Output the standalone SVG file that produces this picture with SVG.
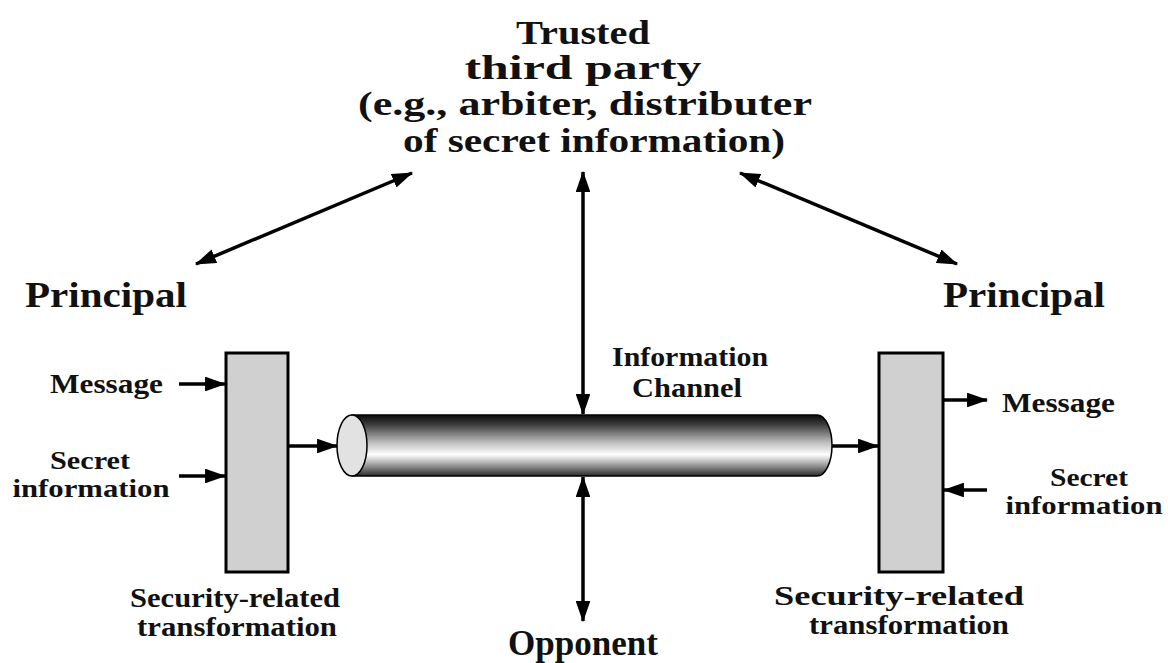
<svg xmlns="http://www.w3.org/2000/svg" width="1168" height="663" viewBox="0 0 1168 663">
<style>
text{font-family:"Liberation Serif","Times New Roman",serif;font-weight:bold;fill:#111}
.big{font-size:36px}
.ttl{font-size:33px}
.mid{font-size:27px}
.sm{font-size:25px}
.c{text-anchor:middle}
.ln{stroke:#000;stroke-width:3.5;fill:none}
.box{fill:#d0d0d0;stroke:#000;stroke-width:3}
</style>
<defs>
<marker id="ah" viewBox="0 0 20 14" refX="19" refY="7" markerWidth="6" markerHeight="4.2" markerUnits="strokeWidth" orient="auto-start-reverse">
<path d="M0,0 L20,7 L0,14 z" fill="#000"/>
</marker>
<linearGradient id="cyl" x1="0" y1="0" x2="0" y2="1">
<stop offset="0" stop-color="#0a0a0a"/>
<stop offset="0.15" stop-color="#3a3a3a"/>
<stop offset="0.45" stop-color="#bdbdbd"/>
<stop offset="0.65" stop-color="#ffffff"/>
<stop offset="0.85" stop-color="#8a8a8a"/>
<stop offset="1" stop-color="#2a2a2a"/>
</linearGradient>
</defs>
<rect width="1168" height="663" fill="#fff"/>

<g id="trusted">
<text class="ttl c" x="583" y="44" textLength="134" lengthAdjust="spacingAndGlyphs">Trusted</text>
<text class="ttl c" x="583" y="79" textLength="237" lengthAdjust="spacingAndGlyphs">third party</text>
<text class="ttl c" x="585" y="115" textLength="454" lengthAdjust="spacingAndGlyphs">(e.g., arbiter, distributer</text>
<text class="ttl c" x="594" y="152" textLength="382" lengthAdjust="spacingAndGlyphs">of secret information)</text>
</g>

<g id="principal-left">
<text class="big" x="25" y="307" textLength="162" lengthAdjust="spacingAndGlyphs">Principal</text>
</g>
<g id="principal-right">
<text class="big" x="943" y="307" textLength="162" lengthAdjust="spacingAndGlyphs">Principal</text>
</g>

<g id="transform-left">
<rect class="box" x="226" y="353" width="62" height="219"/>
<text class="mid" x="50" y="393" textLength="113" lengthAdjust="spacingAndGlyphs">Message</text>
<text class="sm c" x="90" y="469" textLength="80" lengthAdjust="spacingAndGlyphs">Secret</text>
<text class="sm c" x="91" y="497" textLength="157" lengthAdjust="spacingAndGlyphs">information</text>
<text class="mid c" x="235" y="607" textLength="210" lengthAdjust="spacingAndGlyphs">Security-related</text>
<text class="mid c" x="237" y="636" textLength="200" lengthAdjust="spacingAndGlyphs">transformation</text>
</g>

<g id="transform-right">
<rect class="box" x="879" y="353" width="64" height="219"/>
<text class="mid" x="1002" y="412" textLength="113" lengthAdjust="spacingAndGlyphs">Message</text>
<text class="sm c" x="1089" y="486" textLength="78" lengthAdjust="spacingAndGlyphs">Secret</text>
<text class="sm c" x="1084" y="514" textLength="157" lengthAdjust="spacingAndGlyphs">information</text>
<text class="mid c" x="899" y="605" textLength="250" lengthAdjust="spacingAndGlyphs">Security-related</text>
<text class="mid c" x="909" y="634" textLength="200" lengthAdjust="spacingAndGlyphs">transformation</text>
</g>

<g id="channel">
<path d="M352,415 L817,415 A15,30.5 0 0 1 817,476 L352,476 Z" fill="url(#cyl)" stroke="#000" stroke-width="1.5"/>
<ellipse cx="352" cy="445.5" rx="15" ry="30.5" fill="#e2e2e2" stroke="#000" stroke-width="1.5"/>
<text class="mid c" x="690" y="366" textLength="156" lengthAdjust="spacingAndGlyphs">Information</text>
<text class="mid c" x="687" y="397" textLength="110" lengthAdjust="spacingAndGlyphs">Channel</text>
</g>

<g id="opponent">
<text class="big c" x="583" y="655" textLength="150" lengthAdjust="spacingAndGlyphs">Opponent</text>
</g>

<g id="connectors">
<line class="ln" x1="196" y1="264" x2="412" y2="173" marker-start="url(#ah)" marker-end="url(#ah)"/>
<line class="ln" x1="740" y1="173" x2="957" y2="264" marker-start="url(#ah)" marker-end="url(#ah)"/>
<line class="ln" x1="583" y1="172" x2="583" y2="414" marker-start="url(#ah)" marker-end="url(#ah)"/>
<line class="ln" x1="583" y1="477" x2="583" y2="621" marker-start="url(#ah)" marker-end="url(#ah)"/>
<line class="ln" x1="179" y1="384" x2="225" y2="384" marker-end="url(#ah)"/>
<line class="ln" x1="179" y1="476" x2="225" y2="476" marker-end="url(#ah)"/>
<line class="ln" x1="289" y1="446" x2="337" y2="446" marker-end="url(#ah)"/>
<line class="ln" x1="832" y1="446" x2="878" y2="446" marker-end="url(#ah)"/>
<line class="ln" x1="944" y1="400" x2="987" y2="400" marker-end="url(#ah)"/>
<line class="ln" x1="987" y1="490" x2="944" y2="490" marker-end="url(#ah)"/>
</g>
</svg>
